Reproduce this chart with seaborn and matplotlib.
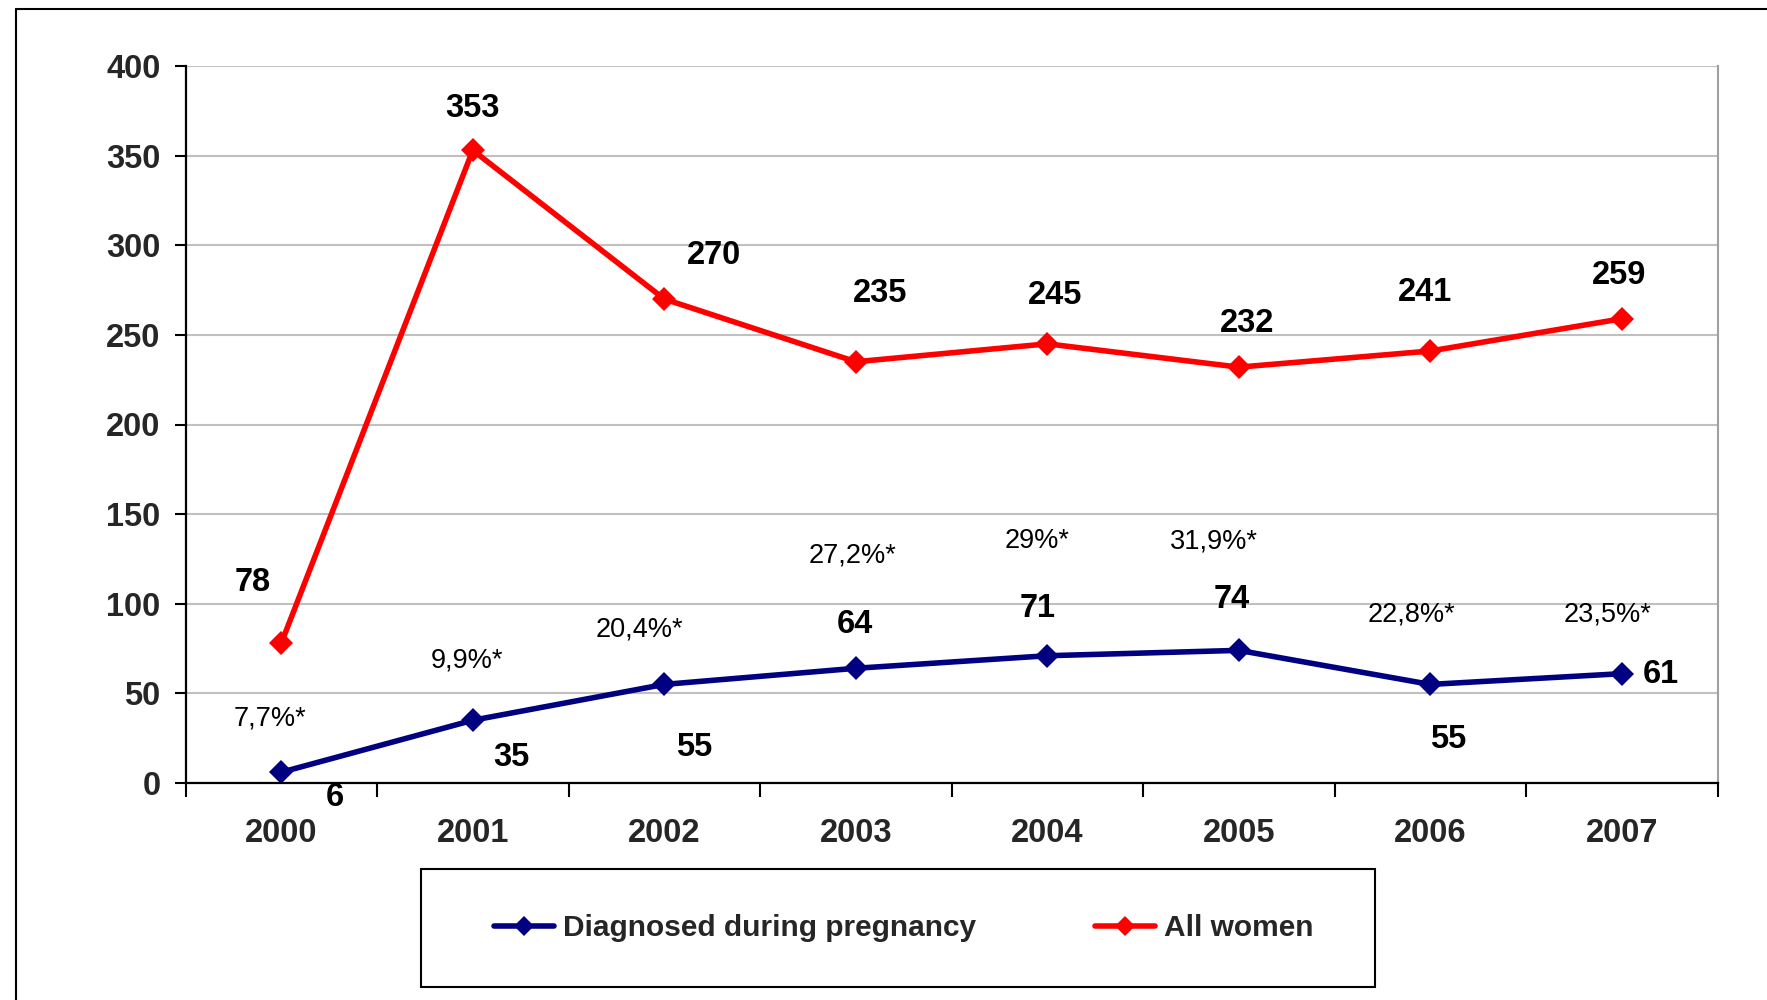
import matplotlib
matplotlib.use("Agg")
import matplotlib.pyplot as plt
import matplotlib.patches as mpatches
import seaborn as sns
import pandas as pd

years = [2000, 2001, 2002, 2003, 2004, 2005, 2006, 2007]
diagnosed = [6, 35, 55, 64, 71, 74, 55, 61]
all_women = [78, 353, 270, 235, 245, 232, 241, 259]
percent_labels = ["7,7%*", "9,9%*", "20,4%*", "27,2%*", "29%*", "31,9%*", "22,8%*", "23,5%*"]
series_names = ["Diagnosed during pregnancy", "All women"]
y_ticks = [0, 50, 100, 150, 200, 250, 300, 350, 400]

# label offsets in pixels (layout only)
red_off = [(-29, 61), (0, 42), (50, 44), (24, 68), (8, 48), (8, 44), (-5, 59), (-3, 43)]
blue_off = [(54, -25), (39, -37), (30, -63), (-1, 44), (-10, 47), (-7, 51), (18, -55), (39, -1)]
pct_off = [(-11, 54), (-6, 60), (-25, 55), (-3, 113), (-10, 115), (-25, 109), (-19, 70), (-14, 59)]

sns.set_style("white")
plt.rcParams['font.family'] = ['Liberation Sans', 'DejaVu Sans']

df = pd.DataFrame({
    "year": years * 2,
    "value": diagnosed + all_women,
    "series": [series_names[0]] * len(years) + [series_names[1]] * len(years),
})

fig = plt.figure(figsize=(17.67, 10), dpi=100)
ax = fig.add_axes([0.105, 0.217, 0.867, 0.717])

palette = {series_names[0]: "#000080", series_names[1]: "#FF0000"}
sns.lineplot(data=df, x="year", y="value", hue="series", palette=palette,
             style="series", markers={series_names[0]: "D", series_names[1]: "D"},
             dashes=False, linewidth=4, markersize=12, markeredgewidth=0,
             ax=ax, legend=False)

ax.set_xlim(years[0] - 0.5, years[-1] + 0.5)
ax.set_ylim(0, 400)
ax.set_yticks(y_ticks)
ax.set_xticks(years)
ax.set_xticklabels([str(y) for y in years])
ax.set_xticks([y - 0.5 for y in years] + [years[-1] + 0.5], minor=True)
ax.set_xlabel("")
ax.set_ylabel("")

ax.grid(axis="y", color="#c0c0c0", linewidth=1.5)
ax.set_axisbelow(True)
for s in ["left", "bottom"]:
    ax.spines[s].set_color("black")
    ax.spines[s].set_linewidth(1.6)
ax.spines["right"].set_color("#a0a0a0")
ax.spines["right"].set_linewidth(1.5)
ax.spines["top"].set_visible(False)

ax.tick_params(axis="y", which="major", direction="out", length=8, width=1.5,
               color="black", labelsize=23.5, pad=10, left=True)
ax.tick_params(axis="x", which="major", length=0, labelsize=23.5, pad=25)
ax.tick_params(axis="x", which="minor", direction="out", length=10, width=1.5,
               color="black", bottom=True)
for lab in ax.get_xticklabels() + ax.get_yticklabels():
    lab.set_fontweight("bold")

for i, y in enumerate(years):
    ax.annotate(str(all_women[i]), xy=(y, all_women[i]), xytext=red_off[i],
                textcoords="offset pixels", ha="center", va="center",
                fontsize=23.5, fontweight="bold", color="black")
    ax.annotate(str(diagnosed[i]), xy=(y, diagnosed[i]), xytext=blue_off[i],
                textcoords="offset pixels", ha="center", va="center",
                fontsize=23.5, fontweight="bold", color="black")
    ax.annotate(percent_labels[i], xy=(y, diagnosed[i]), xytext=pct_off[i],
                textcoords="offset pixels", ha="center", va="center",
                fontsize=19.5, color="black")

# legend
handles = [plt.Line2D([], [], color=palette[n], marker="D", markersize=10,
                      markeredgewidth=0, linewidth=4) for n in series_names]
fig.legend(handles, series_names, loc="center", bbox_to_anchor=(0.5115, 0.072),
           ncol=2, frameon=False, handlelength=2.0, handletextpad=0.3,
           columnspacing=4.0, prop={"family": "Liberation Sans", "weight": "bold", "size": 21.5})
fig.patches.append(mpatches.Rectangle((421 / 1767, 1 - 987 / 1000), (1375 - 421) / 1767,
                                      (987 - 869) / 1000, transform=fig.transFigure,
                                      fill=False, edgecolor="black", linewidth=1.5))

# outer chart border (left and top visible)
fig.add_artist(plt.Line2D([16 / 1767, 16 / 1767], [0, 1 - 9 / 1000], color="black",
                          linewidth=1.5, transform=fig.transFigure))
fig.add_artist(plt.Line2D([16 / 1767, 1], [1 - 9 / 1000, 1 - 9 / 1000], color="black",
                          linewidth=1.5, transform=fig.transFigure))

fig.savefig("out.png", dpi=100)
